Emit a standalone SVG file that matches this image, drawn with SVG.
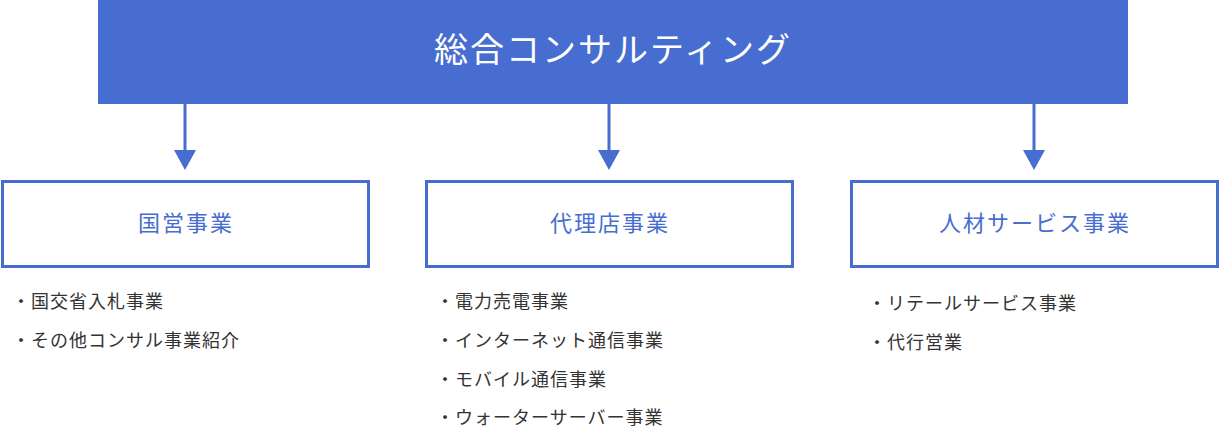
<svg xmlns="http://www.w3.org/2000/svg" width="1220" height="428" viewBox="0 0 1220 428">
<style>
text{font-family:"Noto Sans CJK JP","Noto Sans",sans-serif}
.box{fill:#fff;stroke:#466dcf;stroke-width:3}
.bt{fill:#466dcf;font-size:22px;text-anchor:middle;letter-spacing:2px}
.li{fill:#333;font-size:18px;letter-spacing:1px}
.ln{stroke:#466dcf;stroke-width:3}
</style>
<defs><marker id="ah" markerWidth="8" markerHeight="7" refX="0" refY="3.5" orient="auto" markerUnits="userSpaceOnUse" viewBox="0 0 8 7"><path d="M0,0L8,3.5L0,7z" fill="#466dcf"/></marker></defs>
<g id="top"><rect x="98" y="0" width="1030" height="104" fill="#466dcf"/>
<text x="613" y="62" fill="#fff" font-size="34" text-anchor="middle" style="font-family:'Noto Sans CJK JP',sans-serif;letter-spacing:2px">総合コンサルティング</text></g>
<g id="connectors">
<line class="ln" x1="185" y1="104" x2="185" y2="152"/><path d="M174,150h22l-11,20z" fill="#466dcf"/>
<line class="ln" x1="609" y1="104" x2="609" y2="152"/><path d="M598,150h22l-11,20z" fill="#466dcf"/>
<line class="ln" x1="1034" y1="104" x2="1034" y2="152"/><path d="M1023,150h22l-11,20z" fill="#466dcf"/>
</g>
<g id="n1"><rect class="box" x="2.5" y="181.5" width="366" height="85"/><text class="bt" x="186" y="231">国営事業</text>
<text class="li" x="12" y="308">・国交省入札事業</text><text class="li" x="12" y="347">・その他コンサル事業紹介</text></g>
<g id="n2"><rect class="box" x="426.5" y="181.5" width="366" height="85"/><text class="bt" x="610" y="231">代理店事業</text>
<text class="li" x="436" y="308">・電力売電事業</text><text class="li" x="436" y="347">・インターネット通信事業</text><text class="li" x="436" y="386">・モバイル通信事業</text><text class="li" x="436" y="424">・ウォーターサーバー事業</text></g>
<g id="n3"><rect class="box" x="851.5" y="181.5" width="366" height="85"/><text class="bt" x="1035" y="231">人材サービス事業</text>
<text class="li" x="868" y="310">・リテールサービス事業</text><text class="li" x="868" y="349">・代行営業</text></g>
</svg>
